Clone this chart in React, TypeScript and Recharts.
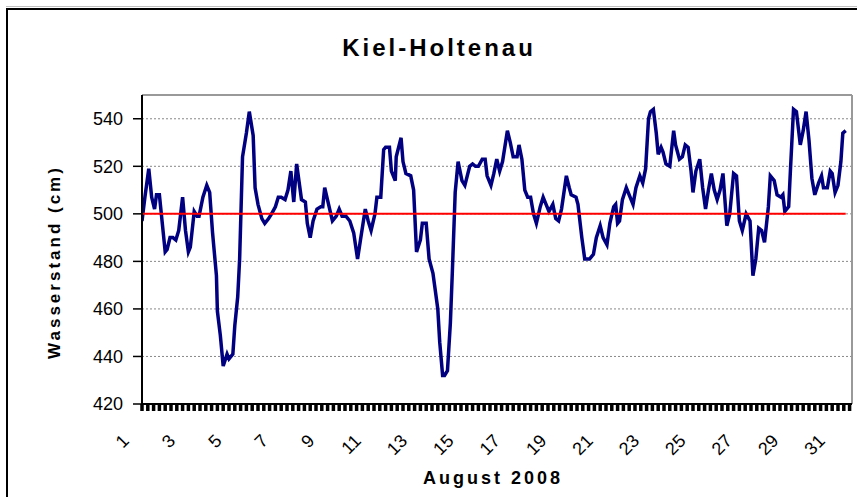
import { LineChart, Line, XAxis, YAxis, CartesianGrid, ReferenceLine } from "recharts"

const FONT = '"Liberation Sans", Arial, Helvetica, sans-serif'

// hours since 1 Aug 2008 00:00
const hours = [
  0, 3, 7, 10, 13, 15, 18, 20, 24, 26, 29, 32, 35, 38, 42, 45, 48, 50, 54, 57,
  59, 63, 67, 70, 73, 77, 78, 81, 84, 88, 90, 94, 96, 99, 101, 104, 108, 111, 115, 117,
  120, 124, 127, 131, 134, 138, 141, 144, 148, 151, 154, 157, 160,
  165, 169, 171, 174, 177, 181, 185, 187, 189, 193, 197, 201, 204, 207, 211, 215, 219, 223,
  226, 231, 234, 237, 241, 243, 247, 250, 252, 256, 258, 262, 263, 268, 270, 273, 278, 281,
  284, 288, 290, 294, 297, 301, 303, 306, 308, 311, 313, 316, 319, 321, 324, 327, 331, 334,
  339, 342, 345, 348, 352, 355, 357, 361, 364, 367, 370, 373, 378, 381, 384, 388, 390, 393,
  396, 399, 402, 405, 408, 412, 415, 418, 421, 425, 428, 431, 434, 439, 442, 444, 449, 451,
  455, 458, 463, 467, 470, 474, 477, 481, 484, 488, 490, 492, 494, 497, 501, 504, 508, 511,
  515, 518, 521, 524, 526, 529, 532, 534, 537, 539, 542, 546, 550, 552, 556, 559, 562, 565,
  568, 570, 573, 577, 580, 583, 586, 589, 592, 595, 598, 601, 605, 608, 612, 615, 618, 621,
  625, 629, 632, 635, 638, 641, 644, 648, 650, 654, 657, 661, 663, 665, 669, 671, 674, 677,
  681, 684, 687, 690, 693, 696, 700, 703, 705, 709, 712, 714, 717, 720, 723, 725, 728,
]

// Wasserstand in cm
const levels = [
  497, 507, 519, 507, 502, 508, 508, 500, 484, 485, 490, 490, 489, 493, 507, 493, 484, 486, 501, 499,
  499, 507, 512, 509, 492, 474, 459, 449, 436, 441, 439, 441, 453, 465, 481, 524, 534, 543, 533, 511,
  504, 498, 496, 498, 500, 503, 507, 507, 506, 510, 518, 505, 521,
  506, 505, 496, 490, 497, 502, 503, 503, 511, 504, 497, 499, 502, 499, 499, 497, 492, 481,
  489, 502, 497, 493, 500, 507, 507, 527, 528, 528, 518, 514, 524, 532, 522, 517, 516, 510,
  484, 489, 496, 496, 481, 475, 469, 460, 446, 432, 432, 434, 454, 475, 509, 522, 514, 512,
  520, 521, 520, 520, 523, 523, 516, 512, 517, 523, 518, 522, 535, 530, 524, 524, 529, 523,
  510, 507, 507, 500, 496, 503, 507, 504, 501, 504, 498, 497, 502, 516, 511, 508, 507, 504,
  490, 481, 481, 483, 490, 495, 490, 487, 496, 503, 504, 496, 497, 506, 511, 508, 504, 511,
  516, 513, 519, 540, 543, 544, 534, 525, 528, 526, 521, 520, 535, 529, 523, 524, 529, 528,
  518, 509, 518, 523, 511, 502, 510, 517, 510, 506, 510, 517, 495, 500, 517, 516, 497, 493,
  500, 497, 474, 481, 494, 493, 488, 503, 516, 514, 508, 507, 508, 501, 503, 520, 544, 543,
  529, 535, 543, 531, 515, 508, 513, 516, 511, 511, 518, 517, 509, 512, 522, 534, 535,
]

const meanLevel = 500
const yTicks = [420, 440, 460, 480, 500, 520, 540]
const labelDays = [1, 3, 5, 7, 9, 11, 13, 15, 17, 19, 21, 23, 25, 27, 29, 31]
const axisEnd = 734.5

const data = hours.map((h, i) => ({ h, level: levels[i], mean: meanLevel }))
const xTicks = Array.from({ length: 123 }, (_, i) => i * 6)

function DayTick(props: any) {
  const { x, y, payload } = props
  const h = payload.value
  const day = h / 24 + 1
  const showLabel = labelDays.includes(day)
  const ax = x - 12
  const ay = y + 38
  return (
    <g>
      <line x1={x} x2={x} y1={y} y2={y + 7} stroke="#000" strokeWidth={3.5} />
      {showLabel && (
        <text
          x={ax}
          y={ay}
          textAnchor="end"
          transform={`rotate(-45 ${ax} ${ay})`}
          fontSize={18}
          fontFamily={FONT}
          fill="#000"
        >
          {day}
        </text>
      )}
    </g>
  )
}

export default function App() {
  return (
    <div
      style={{
        position: "absolute",
        left: 0,
        top: 0,
        width: 857,
        height: 497,
        overflow: "hidden",
        background: "#fff",
        fontFamily: FONT,
      }}
    >
      {/* outer frame */}
      <div style={{ position: "absolute", left: 6, top: 6, width: 900, height: 1, background: "#c0c0c0" }} />
      <div
        style={{
          position: "absolute",
          left: 6,
          top: 8,
          width: 900,
          height: 600,
          borderLeft: "2px solid #000",
          borderTop: "2px solid #000",
        }}
      />

      <div
        style={{
          position: "absolute",
          left: 0,
          top: 34,
          width: 878,
          textAlign: "center",
          fontSize: 24,
          fontWeight: "bold",
          letterSpacing: 3,
        }}
      >
        Kiel-Holtenau
      </div>

      <div
        style={{
          position: "absolute",
          left: 55,
          top: 262,
          transform: "translate(-50%, -50%) rotate(-90deg)",
          whiteSpace: "nowrap",
          fontSize: 17,
          fontWeight: "bold",
          letterSpacing: 3,
        }}
      >
        Wasserstand (cm)
      </div>

      <div
        style={{
          position: "absolute",
          left: 493,
          top: 478,
          transform: "translate(-50%, -50%)",
          whiteSpace: "nowrap",
          fontSize: 18,
          fontWeight: "bold",
          letterSpacing: 3,
        }}
      >
        August 2008
      </div>

      <div style={{ position: "absolute", left: 0, top: 0 }}>
        <LineChart
          width={857}
          height={497}
          data={data}
          margin={{ top: 95, right: 5, bottom: 63, left: 82 }}
        >
          <CartesianGrid vertical={false} stroke="#888" strokeDasharray="2 2" />
          <XAxis
            type="number"
            dataKey="h"
            domain={[0, axisEnd]}
            ticks={xTicks}
            interval={0}
            allowDataOverflow
            height={30}
            tickSize={0}
            tickMargin={0}
            tickLine={false}
            axisLine={{ stroke: "#000", strokeWidth: 2 }}
            tick={(p: any) => <DayTick {...p} />}
          />
          <YAxis
            domain={[420, 550]}
            ticks={yTicks}
            interval={0}
            allowDataOverflow
            width={60}
            tickSize={9}
            tickMargin={10}
            axisLine={{ stroke: "#000", strokeWidth: 2 }}
            tickLine={{ stroke: "#000", strokeWidth: 1.5 }}
            tick={{ fill: "#000", fontSize: 18, fontFamily: FONT }}
          />
          <ReferenceLine y={550} stroke="#999" strokeWidth={2} />
          <ReferenceLine x={axisEnd} stroke="#999" strokeWidth={2} />
          <Line
            type="linear"
            dataKey="level"
            stroke="#000080"
            strokeWidth={3.5}
            dot={false}
            isAnimationActive={false}
          />
          <Line
            type="linear"
            dataKey="mean"
            stroke="#ff0000"
            strokeWidth={2}
            dot={false}
            isAnimationActive={false}
          />
        </LineChart>
      </div>
    </div>
  )
}
